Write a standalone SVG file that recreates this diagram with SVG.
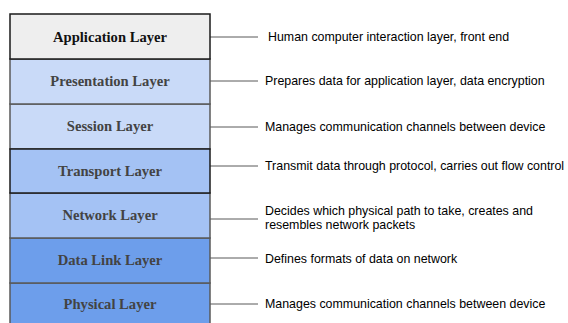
<svg xmlns="http://www.w3.org/2000/svg" width="568" height="323" viewBox="0 0 568 323">
<style>
.box{stroke:#595959;stroke-width:1.5}
.dark{stroke:#1a1a1a;stroke-width:1.5}
.lt{font-family:"Liberation Serif","Times New Roman",serif;font-weight:bold;font-size:14.6px;fill:#434343;text-anchor:middle}
.ds{font-family:"Liberation Sans",Arial,sans-serif;font-size:12.4px;fill:#000}
.c{stroke:#595959;stroke-width:1;fill:none}
</style>
<rect width="568" height="323" fill="#ffffff"/>
<g id="connectors">
<line class="c" x1="210" y1="37" x2="258" y2="37"/>
<line class="c" x1="210" y1="81" x2="258" y2="81"/>
<line class="c" x1="210" y1="127" x2="258" y2="127"/>
<line class="c" x1="210" y1="166" x2="258" y2="166"/>
<line class="c" x1="210" y1="219" x2="258" y2="219"/>
<line class="c" x1="210" y1="258" x2="258" y2="258"/>
<line class="c" x1="210" y1="304" x2="258" y2="304"/>
</g>
<g id="physical">
<rect class="box" x="10" y="283" width="200" height="50" fill="#6d9eeb"/>
<text class="lt" x="110" y="309">Physical Layer</text>
</g>
<g id="datalink">
<rect class="box" x="10" y="238" width="200" height="45" fill="#6d9eeb"/>
<text class="lt" x="110" y="265">Data Link Layer</text>
</g>
<g id="network">
<rect class="box" x="10" y="193" width="200" height="45" fill="#a4c2f4"/>
<text class="lt" x="110" y="220">Network Layer</text>
</g>
<g id="session">
<rect class="box" x="10" y="104" width="200" height="45" fill="#c9daf8"/>
<text class="lt" x="110" y="131">Session Layer</text>
</g>
<g id="presentation">
<rect class="box" x="10" y="59" width="200" height="45" fill="#c9daf8"/>
<text class="lt" x="110" y="86">Presentation Layer</text>
</g>
<g id="transport">
<rect class="dark" x="10" y="149" width="200" height="44" fill="#a4c2f4"/>
<text class="lt" x="110" y="176">Transport Layer</text>
</g>
<g id="application">
<rect class="dark" x="10" y="14" width="200" height="45" fill="#eeeeee"/>
<text class="lt" x="110" y="42" style="fill:#111">Application Layer</text>
</g>
<g id="descriptions">
<text class="ds" x="268" y="41">Human computer interaction layer, front end</text>
<text class="ds" x="265" y="85">Prepares data for application layer, data encryption</text>
<text class="ds" x="265" y="131">Manages communication channels between device</text>
<text class="ds" x="265" y="170">Transmit data through protocol, carries out flow control</text>
<text class="ds" x="265" y="215">Decides which physical path to take, creates and</text>
<text class="ds" x="265" y="229">resembles network packets</text>
<text class="ds" x="265" y="263">Defines formats of data on network</text>
<text class="ds" x="265" y="308">Manages communication channels between device</text>
</g>
</svg>
